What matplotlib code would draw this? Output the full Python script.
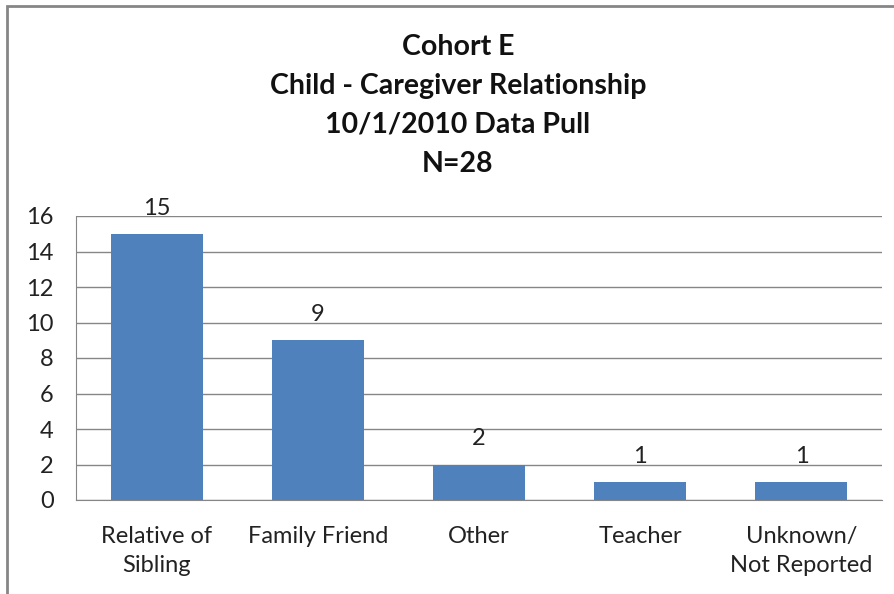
import matplotlib.pyplot as plt
from matplotlib.patches import Rectangle

# Cores no estilo do Excel
AZUL = "#4F81BD"
CINZA = "#868686"

plt.rcParams.update({
    "font.family": ["Lato", "DejaVu Sans"],
    "font.size": 17,
})

categorias = ["Relative of\nSibling", "Family Friend", "Other", "Teacher", "Unknown/\nNot Reported"]
valores = [15, 9, 2, 1, 1]
ticks_y = [0, 2, 4, 6, 8, 10, 12, 14, 16]
titulo = ["Cohort E", "Child - Caregiver Relationship", "10/1/2010 Data Pull", "N=28"]

fig = plt.figure(figsize=(8.95, 5.94), dpi=100)
W, H = 895, 594

# moldura externa do gráfico
fig.patches.append(Rectangle((7 / W, -0.05), 1.2, 1 - 6 / H + 0.05,
                             transform=fig.transFigure, fill=False,
                             edgecolor=CINZA, linewidth=2))

ax = fig.add_axes([76 / W, 1 - 500 / H, (882 - 76) / W, (500 - 216) / H])

x = list(range(len(categorias)))
bars = ax.bar(x, valores, width=0.57, color=AZUL, zorder=3)

for bar, v in zip(bars, valores):
    ax.annotate(str(v), (bar.get_x() + bar.get_width() / 2, v),
                xytext=(0, 18.5), textcoords="offset points",
                ha="center", va="center", fontsize=17, color="#222222")

ax.set_xlim(-0.5, len(categorias) - 0.5)
ax.set_ylim(0, 16)
ax.set_yticks(ticks_y)
ax.set_xticks(x)
ax.set_xticklabels(categorias, linespacing=1.5)
ax.tick_params(axis="both", length=0, labelsize=17, colors="#222222")
ax.tick_params(axis="x", pad=18.5)
ax.tick_params(axis="y", pad=16)
ax.yaxis.grid(True, color=CINZA, linewidth=1, zorder=0)
ax.xaxis.grid(False)

for lado in ["top", "right"]:
    ax.spines[lado].set_visible(False)
ax.spines["left"].set_color(CINZA)
ax.spines["bottom"].set_color(CINZA)

# título em quatro linhas
for i, linha in enumerate(titulo):
    fig.text(458 / W, 1 - (47 + 39 * i) / H, linha, ha="center", va="center",
             fontsize=20.5, fontweight="bold", color="#111111")

fig.savefig("out.png", dpi=100)
